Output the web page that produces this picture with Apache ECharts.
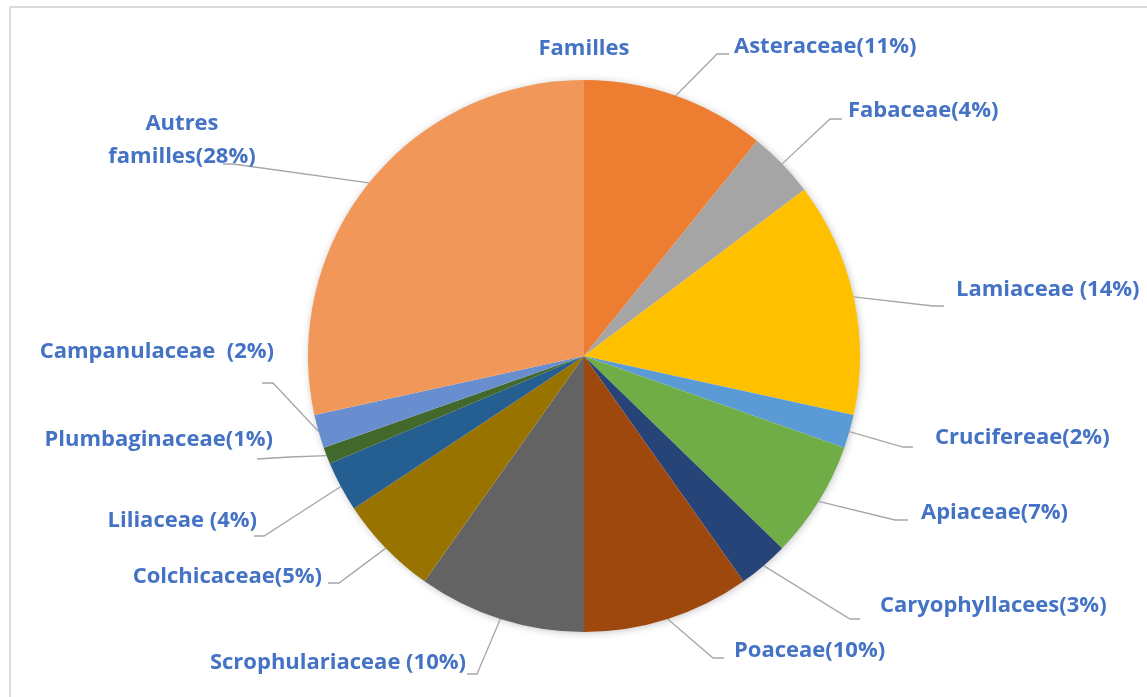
<!DOCTYPE html>
<html>
<head>
<meta charset="utf-8">
<script src="https://cdn.jsdelivr.net/npm/echarts@6/dist/echarts.min.js"></script>
<style>
html,body{margin:0;padding:0;background:#fff;}
#chart{width:1147px;height:697px;}
</style>
</head>
<body>
<div id="chart"></div>
<script>
// ---- data ----
const categories = ["Asteraceae(11%)", "Fabaceae(4%)", "Lamiaceae (14%)", "Crucifereae(2%)", "Apiaceae(7%)",
  "Caryophyllacees(3%)", "Poaceae(10%)", "Scrophulariaceae (10%)", "Colchicaceae(5%)", "Liliaceae (4%)",
  "Plumbaginaceae(1%)", "Campanulaceae  (2%)", "Autres\nfamilles(28%)"];
const values = [11, 4, 14, 2, 7, 3, 10, 10, 6, 3, 1, 2, 29];
const colors = ["#ED7D31", "#A5A5A5", "#FFC000", "#5B9BD5", "#70AD47", "#264478", "#9E480E",
  "#636363", "#997300", "#255E91", "#43682B", "#698ED0", "#F1975A"];
const title = "Familles";

// ---- layout ----
const pieCenter = [584, 356];
const pieRadius = 276;
const labelPos = [
  {x: 734, y: 47, align: 'left', elbow: [717, 54], end: [729, 54]},
  {x: 848, y: 111, align: 'left', elbow: [830, 119], end: [842, 119]},
  {x: 956, y: 290, align: 'left', elbow: [933, 306], end: [944, 306]},
  {x: 935, y: 438, align: 'left', elbow: [903, 447], end: [913, 447]},
  {x: 921, y: 513, align: 'left', elbow: [895, 520], end: [908, 520]},
  {x: 880, y: 606, align: 'left', elbow: [850, 619], end: [860, 619]},
  {x: 734, y: 651, align: 'left', elbow: [713, 658], end: [724, 658]},
  {x: 466, y: 663, align: 'right', elbow: [477, 674], end: [467, 674]},
  {x: 322, y: 577, align: 'right', elbow: [339, 583], end: [328, 583]},
  {x: 257, y: 521, align: 'right', elbow: [264, 536], end: [254, 536]},
  {x: 273, y: 440, align: 'right', elbow: [290, 457], end: [257, 459]},
  {x: 274, y: 352, align: 'right', elbow: [273, 383], end: [262, 383]},
  {x: 182, y: 140, align: 'center', elbow: [233, 164], end: [223, 164]}
];

const chart = echarts.init(document.getElementById('chart'), null, {renderer: 'canvas'});
const labelColor = '#4472C4';
const fontFamily = '"Open Sans", Lato, sans-serif';
const fontSize = 22;

chart.setOption({
  animation: false,
  color: colors,
  graphic: [
    {type: 'line', shape: {x1: 10, y1: 7, x2: 1147, y2: 7}, style: {stroke: '#d9d9d9', lineWidth: 2}},
    {type: 'line', shape: {x1: 10, y1: 7, x2: 10, y2: 697}, style: {stroke: '#d9d9d9', lineWidth: 2}},
    {type: 'circle', z: -1, shape: {cx: pieCenter[0], cy: pieCenter[1], r: pieRadius - 1},
      style: {fill: '#ffffff', shadowBlur: 8, shadowColor: 'rgba(0,0,0,0.28)', shadowOffsetX: 1, shadowOffsetY: 1}},
    {type: 'text', x: 584, y: 49, style: {text: title, fill: labelColor, font: 'bold ' + fontSize + 'px ' + fontFamily,
      textAlign: 'center', textVerticalAlign: 'middle'}}
  ],
  series: [{
    type: 'pie',
    z: 5,
    center: pieCenter,
    radius: pieRadius,
    startAngle: 90,
    clockwise: true,
    avoidLabelOverlap: false,
    data: categories.map((c, i) => ({name: c, value: values[i]})),
    itemStyle: {borderWidth: 0},
    label: {
      show: true,
      formatter: '{b}',
      color: labelColor,
      fontWeight: 'bold',
      fontSize: fontSize,
      lineHeight: 33,
      fontFamily: fontFamily
    },
    labelLine: {show: true, length: 20, length2: 10, lineStyle: {color: '#a6a6a6', width: 1.3}},
    labelLayout: function (params) {
      const p = labelPos[params.dataIndex];
      const start = params.labelLinePoints ? params.labelLinePoints[0] : p.elbow;
      return {
        x: p.x, y: p.y, align: p.align, verticalAlign: 'middle',
        labelLinePoints: [start, p.elbow, p.end]
      };
    }
  }]
});
</script>
</body>
</html>
